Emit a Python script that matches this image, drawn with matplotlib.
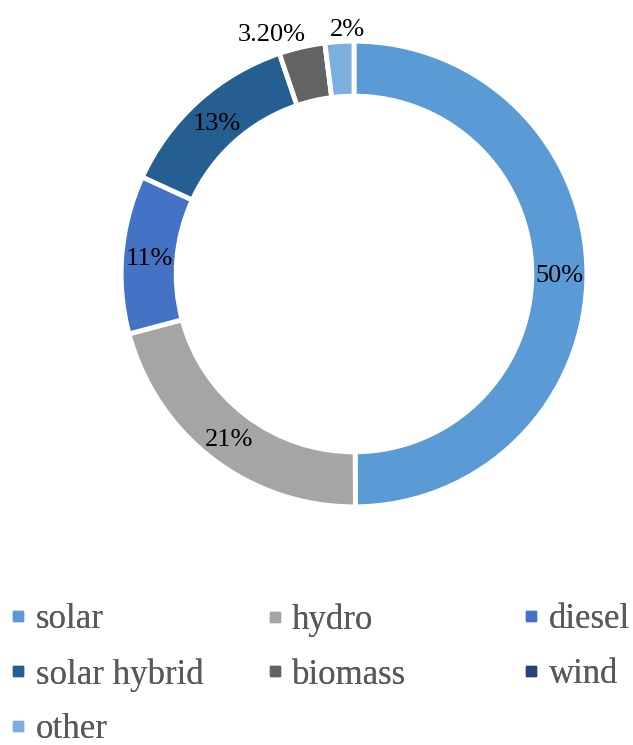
import numpy as np
import matplotlib
matplotlib.use("Agg")
import matplotlib.pyplot as plt
from matplotlib.lines import Line2D

plt.rcParams["font.family"] = ["Liberation Serif", "DejaVu Serif"]

# data
categories = ["solar", "hydro", "diesel", "solar hybrid", "biomass", "wind", "other"]
shares = [50, 21, 11, 13, 3.2, 0, 2]
label_text = ["50%", "21%", "11%", "13%", "3.20%", "", "2%"]
colors = ["#5B9BD5", "#A5A5A5", "#4472C4", "#255E91", "#636363", "#264478", "#7CAFDD"]

# labels Excel pushed outside the ring (offset in radius units from centre)
outside = {4: (-0.35, 1.03), 6: (-0.03, 1.055)}

W, H = 633, 745
fig = plt.figure(figsize=(W / 100, H / 100), dpi=100)
cx, cy, R = 354, 274, 234
ax = fig.add_axes([(cx - R) / W, (H - cy - R) / H, 2 * R / W, 2 * R / H])

wedges, _ = ax.pie(shares, colors=colors, startangle=90, counterclock=False, radius=0.995,
                   wedgeprops=dict(width=0.235, edgecolor="white", linewidth=3.5))
ax.set_xlim(-1, 1); ax.set_ylim(-1, 1); ax.axis("off")

rmid = 0.995 - 0.235 / 2
for i, w in enumerate(wedges):
    if not label_text[i]:
        continue
    if i in outside:
        x, y = outside[i]
    else:
        ang = np.deg2rad((w.theta1 + w.theta2) / 2)
        x, y = rmid * np.cos(ang), rmid * np.sin(ang)
    ax.text(x, y, label_text[i], ha="center", va="center_baseline", fontsize=19,
            color="black", clip_on=False)

# legend laid out in three fixed-width columns, filled row by row like Excel
ncol = 3
for c in range(ncol):
    idx = list(range(c, len(categories), ncol))
    handles = [Line2D([], [], marker="s", ls="none", markersize=7.2, color=colors[i]) for i in idx]
    leg = fig.legend(handles, [categories[i] for i in idx], loc="upper left",
                     bbox_to_anchor=((13 + 256.5 * c) / W, 141.5 / H), frameon=False,
                     fontsize=25, labelcolor="#595959", borderpad=0, borderaxespad=0,
                     handlelength=0.3, handletextpad=0.35, labelspacing=0.62)
    fig.add_artist(leg)

fig.savefig("out.png", dpi=100, facecolor="white")
